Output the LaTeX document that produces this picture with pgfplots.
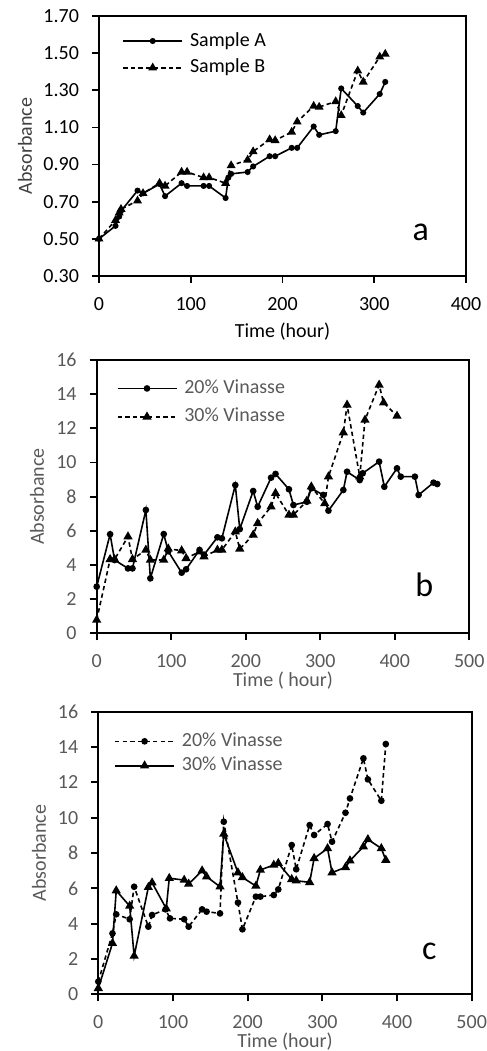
\documentclass[border=0pt]{standalone}
\usepackage{pgfplots}
\pgfplotsset{compat=1.18}
\usepackage{fontspec}
\setmainfont{Carlito}

\definecolor{xlgray}{HTML}{595959}
\definecolor{xldark}{HTML}{404040}

\pgfplotsset{
  panel/.style={
    scale only axis,
    anchor=south west,
    axis line style={line width=0.9pt},
    tick style={line width=0.9pt, black},
    major tick length=3.5pt,
    tick align=outside,
    tick pos=left,
    /pgf/number format/assume math mode=true,
    ticklabel style={font=\fontsize{10}{12}\selectfont},
    label style={font=\fontsize{10}{12}\selectfont},
    xticklabel style={anchor=north, yshift=-3.5pt},
    yticklabel style={anchor=east, xshift=-3pt},
    every axis x label/.style={at={(axis description cs:0.5,0)}, anchor=center},
    legend cell align=left,
    legend image code/.code={
      \draw[mark repeat=2,mark phase=2,##1] plot coordinates {(0pt,0pt) (14.75pt,0pt) (29.5pt,0pt)};},
    legend style={at={(axis description cs:0,1)}, anchor=north west, draw=none, fill=none,
      inner sep=0pt, column sep=2.5pt, font=\fontsize{10}{12}\selectfont,
      nodes={inner sep=1pt, text depth=2pt, text height=7pt}},
  },
  ylab/.style={every axis y label/.style={at={(axis description cs:0,0.5)}, xshift=#1, rotate=90, anchor=center}},
  solidA/.style={black, line width=0.8pt, mark=*, mark size=1.1pt, mark options={solid}},
  dashB/.style={black, line width=0.8pt, dash pattern=on 2.2pt off 1.6pt, mark=triangle*, mark size=1.8pt, mark options={solid}},
}

\begin{document}
\begin{tikzpicture}
\useasboundingbox (0,0) rectangle (243.5pt,-525.5pt);

% ---- panel a
\begin{axis}[panel,
  at={(49.5pt,-138pt)}, width=183.5pt, height=130pt,
  xmin=0, xmax=400, ymin=0.3, ymax=1.7,
  xtick={0,100,...,400}, ytick={0.3,0.5,...,1.71},
  yticklabel style={/pgf/number format/.cd, fixed, fixed zerofill, precision=2},
  xlabel={Time (hour)}, ylabel={Absorbance},
  ylab=-37pt, ylabel style={text=xldark},
  every axis x label/.append style={yshift=-27.8pt},
  legend style={xshift=11.5pt, yshift=-6.8pt, row sep=2.4pt},
]
\addplot[solidA] table {
t v
0 0.50
18 0.57
22 0.62
24 0.65
42 0.76
48 0.745
66 0.795
72 0.73
90 0.80
96 0.785
114 0.785
120 0.785
138 0.72
141 0.83
144 0.85
162 0.86
168 0.89
186 0.945
192 0.945
210 0.99
216 0.99
234 1.105
240 1.06
258 1.08
264 1.31
282 1.215
288 1.18
306 1.28
312 1.345
};
\addlegendentry{Sample A}
\addplot[dashB] table {
t v
0 0.50
18 0.60
22 0.64
24 0.66
42 0.705
48 0.745
66 0.80
72 0.785
90 0.86
96 0.86
114 0.83
120 0.83
138 0.80
144 0.895
162 0.925
168 0.97
186 1.035
192 1.03
210 1.075
216 1.13
234 1.215
240 1.21
258 1.24
264 1.165
282 1.405
288 1.345
306 1.48
312 1.495
};
\addlegendentry{Sample B}
\end{axis}
\node[font=\fontsize{17}{20}\selectfont] at (210.35pt,-116.35pt) {a};

% ---- panel b
\begin{axis}[panel,
  at={(48.35pt,-316.65pt)}, width=186.3pt, height=136.65pt,
  xmin=0, xmax=500, ymin=0, ymax=16,
  xtick={0,100,...,500}, ytick={0,2,...,16},
  ticklabel style={text=xlgray}, label style={text=xlgray},
  xlabel={Time ( hour)}, ylabel={Absorbance},
  ylab=-29.85pt, ylabel style={text=xlgray},
  every axis x label/.append style={yshift=-23.8pt},
  legend style={xshift=9.8pt, yshift=-8.5pt, row sep=3.2pt, text=xlgray},
]
\addplot[solidA, mark size=1.25pt] table {
t v
0 2.73
18 5.80
24 4.29
42 3.80
48 3.80
66 7.22
72 3.22
90 5.81
96 4.80
114 3.55
120 3.75
138 4.88
144 4.60
162 5.62
168 5.56
186 8.68
192 6.10
210 8.33
216 7.41
234 9.11
240 9.33
258 8.43
264 7.51
282 7.70
288 8.49
304 8.10
311 7.18
331 8.39
336 9.46
353 8.97
357 9.37
379 10.05
386 8.58
403 9.66
408 9.17
427 9.17
432 8.10
452 8.82
457 8.74
};
\addlegendentry{20\% Vinasse}
\addplot[dashB, mark size=1.9pt] table {
t v
0 0.78
18 4.33
24 4.33
42 5.66
48 4.33
66 4.88
72 4.29
90 4.29
96 4.95
114 4.84
120 4.39
138 4.78
144 4.49
162 4.88
168 4.88
186 5.95
192 4.94
210 5.76
216 6.44
234 7.41
240 8.20
258 6.93
264 6.93
282 7.75
288 8.58
306 7.60
311 9.17
331 11.75
336 13.37
353 9.17
360 12.49
379 14.54
385 13.50
403 12.72
};
\addlegendentry{30\% Vinasse}
\end{axis}
\node[font=\fontsize{17}{20}\selectfont] at (212.15pt,-292.5pt) {b};

% ---- panel c
\begin{axis}[panel,
  at={(49.15pt,-497.15pt)}, width=186.7pt, height=141.3pt,
  xmin=0, xmax=500, ymin=0, ymax=16,
  xtick={0,100,...,500}, ytick={0,2,...,16},
  ticklabel style={text=xlgray}, label style={text=xlgray},
  xlabel={Time (hour)}, ylabel={Absorbance},
  ylab=-29.65pt, ylabel style={text=xlgray},
  every axis x label/.append style={yshift=-23.7pt},
  legend style={xshift=7.8pt, yshift=-9.1pt, row sep=1.2pt, text=xlgray},
]
\addplot[dashB, mark=*, mark size=1.25pt] table {
t v
0 0.72
19 3.45
24 4.53
42 4.25
48 6.09
67 3.83
72 4.49
90 4.81
96 4.30
115 4.25
121 3.83
139 4.81
145 4.68
163 4.58
168 9.77
187 5.19
193 3.68
211 5.53
217 5.53
235 5.62
241 5.94
259 8.45
265 7.08
283 9.58
289 9.02
307 9.64
313 8.64
331 10.28
337 11.09
355 13.36
361 12.17
379 10.96
385 14.17
};
\addlegendentry{20\% Vinasse}
\addplot[solidA, mark=triangle*, mark size=1.9pt] table {
t v
0 0.34
19 2.89
24 5.87
42 5.00
48 2.17
67 6.06
72 6.32
91 4.85
95 6.57
115 6.47
121 6.25
139 7.00
145 6.66
163 6.09
168 9.08
187 6.89
193 6.62
211 6.13
217 7.04
235 7.32
241 7.42
259 6.51
265 6.43
283 6.34
289 7.70
307 8.26
313 6.89
331 7.19
337 7.57
355 8.36
361 8.77
379 8.26
385 7.60
};
\addlegendentry{30\% Vinasse}
\end{axis}
\node[font=\fontsize{17}{20}\selectfont] at (214.65pt,-475.85pt) {c};
\end{tikzpicture}
\end{document}
